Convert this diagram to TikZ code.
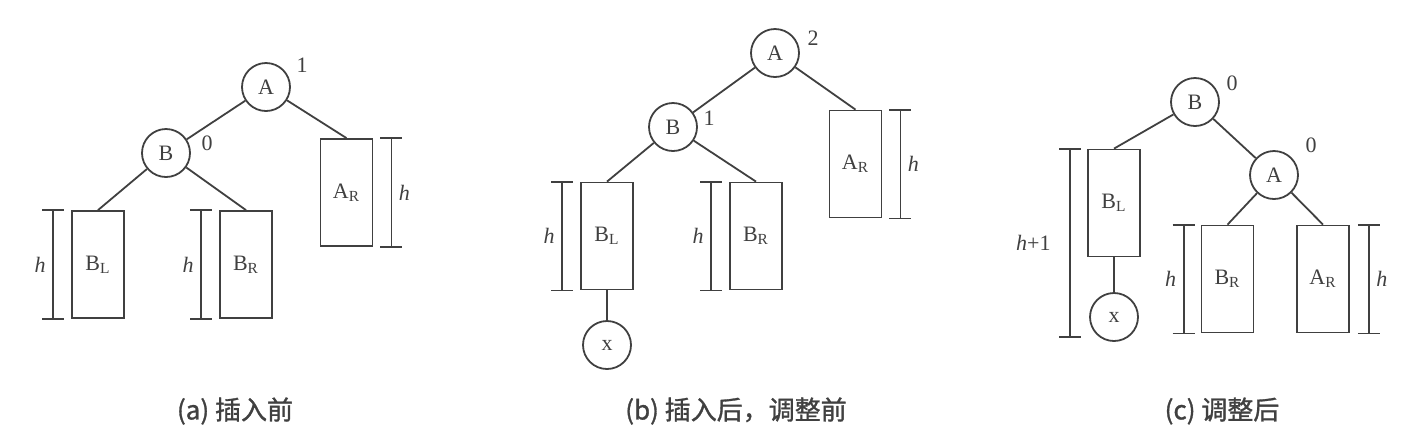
\documentclass[tikz,border=0pt]{standalone}
\usepackage{fontspec}
\setmainfont{Liberation Serif}
\newfontfamily\cjk[FakeBold=1.2]{Noto Sans CJK SC}
\usepackage{tikz}

% height marker beside a subtree: top, bottom, offset, label side, label
\newcommand{\heightmark}[5]{%
  \draw[height mark] ([xshift=#3]#1) +(-5.5pt,0) -- +(5.5pt,0)
    ([xshift=#3]#1) -- node[#4] {#5} ([xshift=#3]#2) +(-5.5pt,0) -- +(5.5pt,0);}

\begin{document}
\begin{tikzpicture}[x=0.5pt,y=-0.5pt,color=black!75,line width=0.9pt,
      tree node/.style={circle,draw,minimum size=24pt,inner sep=0pt,font=\fontsize{11}{13}\selectfont},
      sub tree/.style={rectangle,draw,minimum width=26pt,minimum height=53.5pt,inner sep=0pt,font=\fontsize{11}{13}\selectfont},
      height mark/.style={font=\fontsize{11}{13}\selectfont\itshape},
      balance/.style={font=\fontsize{11}{13}\selectfont},
      caption/.style={font=\cjk\fontsize{13}{15}\selectfont}]

      \useasboundingbox (0,0) rectangle (1417,447);

      % (a) before insertion
      \node[tree node] (aA) at (266,87) {A};
      \node[tree node] (aB) at ([shift={(-100,66)}]aA) {B};
      \node[sub tree] (aBL) at ([shift={(-68,111.5)}]aB) {B\textsubscript{L}};
      \node[sub tree] (aBR) at ([shift={(80,111.5)}]aB) {B\textsubscript{R}};
      \node[sub tree] (aAR) at ([shift={(80.5,105.5)}]aA) {A\textsubscript{R}};
      \node[balance] at ([shift={(36,-22)}]aA) {1};
      \node[balance] at ([shift={(41,-10)}]aB) {0};

      \path (aA) edge (aB) edge (aAR.north)
            (aB) edge (aBL.north) edge (aBR.north);

      \heightmark{aBL.north west}{aBL.south west}{-9pt}{left}{h}
      \heightmark{aBR.north west}{aBR.south west}{-9pt}{left}{h}
      \heightmark{aAR.north east}{aAR.south east}{9pt}{right}{h}

      \node[caption] (capa) at (235,411) {(a) 插入前};

      % (b) after insertion, before rotation
      \node[tree node] (bA) at (775,53) {A};
      \node[tree node] (bB) at ([shift={(-102,74)}]bA) {B};
      \node[sub tree] (bBL) at ([shift={(-66,109)}]bB) {B\textsubscript{L}};
      \node[sub tree] (bBR) at ([shift={(83,109)}]bB) {B\textsubscript{R}};
      \node[sub tree] (bAR) at ([shift={(80.5,111)}]bA) {A\textsubscript{R}};
      \node[tree node] (bx) at ([shift={(0,109)}]bBL) {x};
      \node[balance] at ([shift={(38,-15)}]bA) {2};
      \node[balance] at ([shift={(36,-9)}]bB) {1};

      \path (bA) edge (bB) edge (bAR.north)
            (bB) edge (bBL.north) edge (bBR.north)
            (bBL) edge (bx);

      \heightmark{bBL.north west}{bBL.south west}{-9pt}{left}{h}
      \heightmark{bBR.north west}{bBR.south west}{-9pt}{left}{h}
      \heightmark{bAR.north east}{bAR.south east}{9pt}{right}{h}

      \node[caption] (capb) at (736,411) {(b) 插入后，调整前};

      % (c) after rotation
      \node[tree node] (cB) at (1195,102) {B};
      \node[tree node] (cA) at ([shift={(79,73)}]cB) {A};
      \node[sub tree] (cBL) at ([shift={(-81,101)}]cB) {B\textsubscript{L}};
      \node[tree node] (cx) at ([shift={(0,114)}]cBL) {x};
      \node[sub tree] (cBR) at ([shift={(-46.5,104)}]cA) {B\textsubscript{R}};
      \node[sub tree] (cAR) at ([shift={(49,104)}]cA) {A\textsubscript{R}};
      \node[balance] at ([shift={(37,-19)}]cB) {0};
      \node[balance] at ([shift={(37,-30)}]cA) {0};

      \path (cB) edge (cBL.north) edge (cA)
            (cA) edge (cBR.north) edge (cAR.north)
            (cBL) edge (cx);

      \coordinate (cxbot) at ([yshift=2.5pt]cBL.west |- cx.south);
      \heightmark{cBL.north west}{cxbot}{-8.5pt}{left=6pt}{h\upshape+1}
      \heightmark{cBR.north west}{cBR.south west}{-8.5pt}{left}{h}
      \heightmark{cAR.north east}{cAR.south east}{9.5pt}{right}{h}

      \node[caption] (capc) at (1222,411) {(c) 调整后};
\end{tikzpicture}
\end{document}
